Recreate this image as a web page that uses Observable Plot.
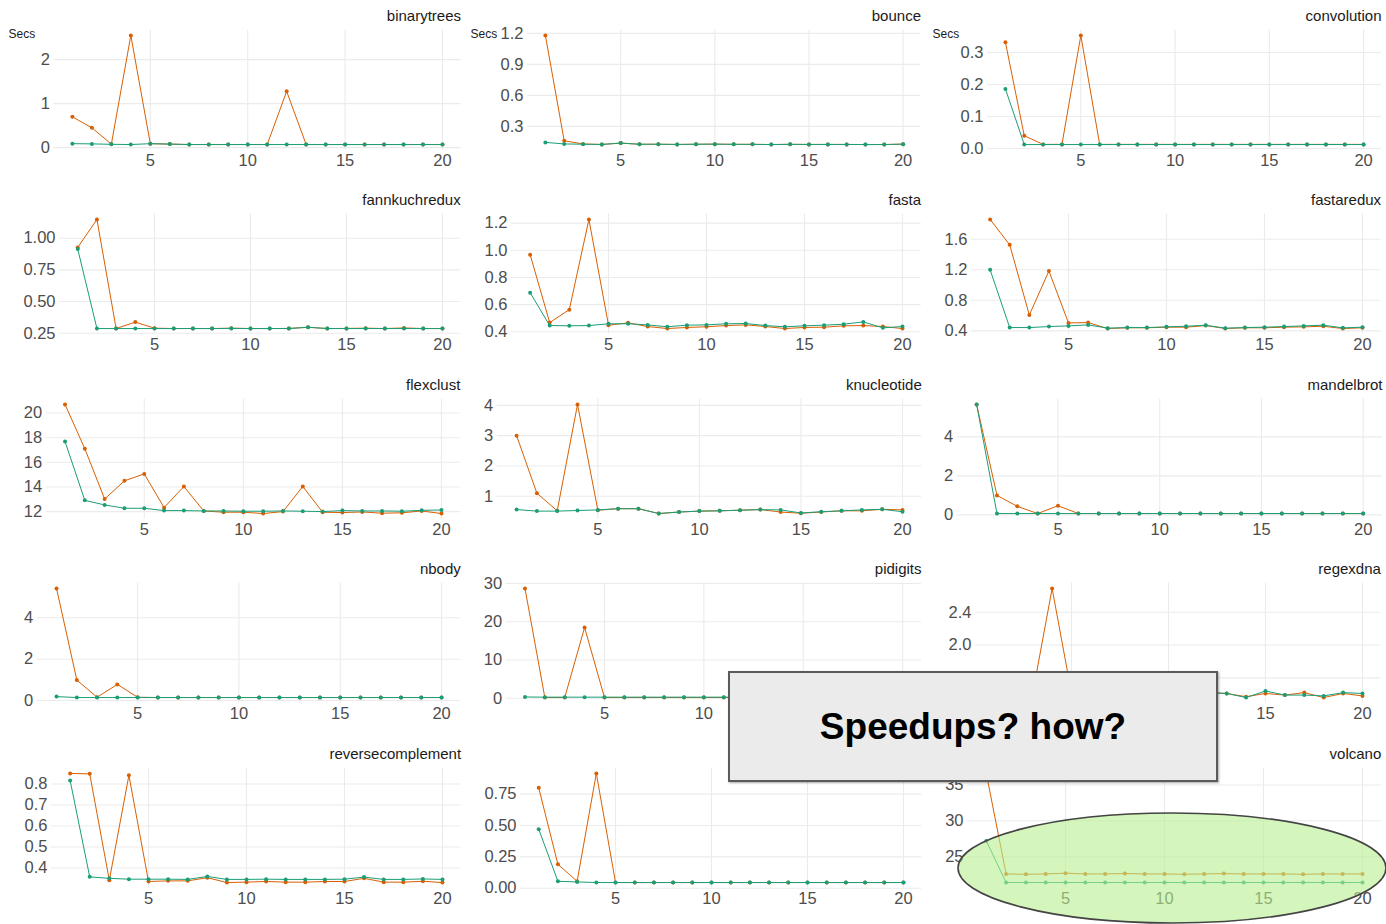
<!DOCTYPE html>
<html><head><meta charset="utf-8">
<script src="https://cdn.jsdelivr.net/npm/d3@7"></script>
<script src="https://cdn.jsdelivr.net/npm/@observablehq/plot@0.6"></script>
<style>
body{margin:0;background:#fff;}
#wrap{position:relative;width:1386px;height:924px;overflow:hidden;background:#fff;font-family:"Liberation Sans",Arial,sans-serif;}
.cell{position:absolute;}
#box{position:absolute;left:728px;top:671px;width:490px;height:111px;box-sizing:border-box;border:2px solid #5a5a5a;background:#ebebeb;display:flex;align-items:center;justify-content:center;font-weight:bold;font-size:37px;color:#000;box-shadow:1px 1px 2px rgba(0,0,0,.35);font-family:"Liberation Sans",Arial,sans-serif;}
#ring{position:absolute;left:0;top:0;pointer-events:none;}
</style></head><body><div id="wrap"></div>
<script>
// ---------- data ----------
const runs = [1,2,3,4,5,6,7,8,9,10,11,12,13,14,15,16,17,18,19,20];
const xTicks = [5,10,15,20];
const benchmarks = ["binarytrees","bounce","convolution","fannkuchredux","fasta","fastaredux","flexclust","knucleotide","mandelbrot","nbody","pidigits","regexdna","reversecomplement","spectralnorm","volcano"];

// orange series (seconds per run)
const binarytreesA = [0.70,0.45,0.08,2.55,0.09,0.08,0.07,0.07,0.07,0.07,0.07,1.28,0.07,0.07,0.07,0.07,0.07,0.07,0.07,0.07];
const bounceA = [1.18,0.16,0.13,0.125,0.138,0.127,0.127,0.125,0.127,0.128,0.126,0.126,0.124,0.126,0.125,0.125,0.125,0.124,0.124,0.128];
const convolutionA = [0.332,0.040,0.013,0.013,0.353,0.013,0.013,0.013,0.013,0.013,0.013,0.013,0.013,0.013,0.013,0.013,0.013,0.013,0.013,0.013];
const fannkuchreduxA = [0.927,1.148,0.287,0.338,0.29,0.287,0.287,0.287,0.29,0.287,0.287,0.288,0.297,0.287,0.288,0.29,0.287,0.292,0.287,0.287];
const fastaA = [0.968,0.468,0.563,1.227,0.449,0.466,0.439,0.424,0.432,0.437,0.446,0.451,0.439,0.424,0.432,0.434,0.444,0.446,0.439,0.424];
const fastareduxA = [1.86,1.527,0.608,1.184,0.504,0.508,0.43,0.44,0.44,0.448,0.448,0.469,0.43,0.44,0.44,0.448,0.452,0.46,0.43,0.44];
const flexclustA = [20.7,17.1,13.02,14.5,15.06,12.32,14.04,12.05,11.95,11.95,11.84,12.0,14.04,11.95,11.92,11.97,11.87,11.9,12.05,11.84];
const knucleotideA = [3.0,1.1,0.52,4.03,0.54,0.59,0.59,0.43,0.48,0.51,0.52,0.54,0.56,0.48,0.44,0.48,0.52,0.52,0.57,0.55];
const mandelbrotA = [5.66,1.0,0.44,0.07,0.47,0.07,0.07,0.07,0.07,0.07,0.07,0.07,0.07,0.07,0.07,0.07,0.07,0.07,0.07,0.07];
const nbodyA = [5.42,0.99,0.16,0.78,0.16,0.145,0.145,0.145,0.145,0.145,0.145,0.145,0.145,0.145,0.145,0.145,0.145,0.145,0.145,0.145];
const pidigitsA = [28.7,0.2,0.2,18.5,0.2,0.2,0.2,0.2,0.2,0.2,0.2,0.2,0.2,0.2,0.2,0.2,0.2,0.2,0.2,0.2];
const regexdnaA = [1.44,1.42,1.41,2.69,1.41,1.42,1.40,1.41,1.42,1.40,1.41,1.42,1.41,1.37,1.41,1.39,1.42,1.36,1.41,1.38];
const reversecomplementA = [0.85,0.848,0.342,0.841,0.336,0.339,0.339,0.354,0.331,0.333,0.336,0.333,0.333,0.336,0.336,0.351,0.333,0.333,0.337,0.331];
const spectralnormA = [0.80,0.19,0.055,0.915,0.045,0.045,0.045,0.045,0.045,0.045,0.045,0.045,0.045,0.045,0.045,0.045,0.045,0.045,0.045,0.045];
const volcanoA = [36.6,22.6,22.55,22.6,22.7,22.6,22.6,22.65,22.6,22.6,22.55,22.6,22.65,22.6,22.6,22.6,22.55,22.6,22.6,22.6];

// green series (seconds per run)
const binarytreesB = [0.09,0.085,0.075,0.07,0.09,0.08,0.07,0.07,0.07,0.07,0.07,0.07,0.07,0.07,0.07,0.07,0.07,0.07,0.07,0.07];
const bounceB = [0.145,0.13,0.127,0.125,0.138,0.127,0.127,0.125,0.127,0.128,0.126,0.126,0.124,0.126,0.125,0.125,0.125,0.124,0.124,0.128];
const convolutionB = [0.186,0.0125,0.0125,0.0125,0.0125,0.0125,0.0125,0.0125,0.0125,0.0125,0.0125,0.0125,0.0125,0.0125,0.0125,0.0125,0.0125,0.0125,0.0125,0.0125];
const fannkuchreduxB = [0.914,0.287,0.287,0.287,0.287,0.287,0.287,0.287,0.288,0.287,0.287,0.287,0.297,0.287,0.287,0.287,0.287,0.287,0.287,0.287];
const fastaB = [0.688,0.446,0.444,0.446,0.459,0.459,0.451,0.437,0.449,0.451,0.459,0.461,0.446,0.437,0.444,0.449,0.456,0.473,0.429,0.439];
const fastareduxB = [1.20,0.443,0.443,0.456,0.465,0.478,0.435,0.443,0.443,0.452,0.46,0.474,0.435,0.443,0.448,0.456,0.465,0.474,0.439,0.448];
const flexclustB = [17.69,12.91,12.54,12.27,12.27,12.08,12.08,12.05,12.05,12.03,12.03,12.05,12.03,12.0,12.08,12.05,12.05,12.03,12.1,12.13];
const knucleotideB = [0.56,0.51,0.51,0.53,0.55,0.59,0.59,0.43,0.48,0.51,0.52,0.54,0.56,0.55,0.45,0.49,0.52,0.55,0.57,0.49];
const mandelbrotB = [5.66,0.07,0.07,0.07,0.07,0.07,0.07,0.07,0.07,0.07,0.07,0.07,0.07,0.07,0.07,0.07,0.07,0.07,0.07,0.07];
const nbodyB = [0.19,0.145,0.145,0.145,0.145,0.145,0.145,0.145,0.145,0.145,0.145,0.145,0.145,0.145,0.145,0.145,0.145,0.145,0.145,0.145];
const pidigitsB = [0.35,0.3,0.3,0.3,0.3,0.3,0.3,0.3,0.3,0.3,0.3,0.3,0.3,0.3,0.3,0.3,0.3,0.3,0.3,0.3];
const regexdnaB = [1.46,1.41,1.40,1.41,1.42,1.41,1.40,1.42,1.41,1.40,1.41,1.42,1.41,1.36,1.44,1.39,1.39,1.38,1.42,1.41];
const reversecomplementB = [0.817,0.358,0.351,0.347,0.347,0.347,0.346,0.36,0.346,0.346,0.347,0.346,0.346,0.346,0.347,0.357,0.346,0.346,0.348,0.346];
const spectralnormB = [0.47,0.055,0.05,0.045,0.045,0.045,0.045,0.045,0.045,0.045,0.045,0.045,0.045,0.045,0.045,0.045,0.045,0.045,0.045,0.045];
const volcanoB = [27.2,21.4,21.4,21.4,21.4,21.4,21.4,21.4,21.4,21.4,21.4,21.4,21.4,21.4,21.4,21.4,21.4,21.4,21.4,21.4];

const seriesA = [binarytreesA,bounceA,convolutionA,fannkuchreduxA,fastaA,fastareduxA,flexclustA,knucleotideA,mandelbrotA,nbodyA,pidigitsA,regexdnaA,reversecomplementA,spectralnormA,volcanoA];
const seriesB = [binarytreesB,bounceB,convolutionB,fannkuchreduxB,fastaB,fastareduxB,flexclustB,knucleotideB,mandelbrotB,nbodyB,pidigitsB,regexdnaB,reversecomplementB,spectralnormB,volcanoB];

// y tick labels per panel
const yTicks = [[0,1,2],[0.3,0.6,0.9,1.2],[0,0.1,0.2,0.3],[0.25,0.5,0.75,1],[0.4,0.6,0.8,1.0,1.2],[0.4,0.8,1.2,1.6],[12,14,16,18,20],[1,2,3,4],[0,2,4],[0,2,4],[0,10,20,30],[1.6,2.0,2.4],[0.4,0.5,0.6,0.7,0.8],[0,0.25,0.5,0.75],[25,30,35]];
const yDigits = [0,1,1,2,1,1,0,0,0,0,0,1,1,2,0];
const yLabel = "Secs";
const annotation = "Speedups? how?";

// ---------- layout (not data) ----------
const marginLefts = [53.4,65,63, 59,49,47, 45.7,34.8,32.8, 36.8,43.6,51, 51,58,43];
const marginRights = [1.5,3.5,5, 1.8,3.4,5.4, 2.2,2.7,4, 1.7,3,5.6, 1.4,2.8,5.2];
const colW = 462, rowH = 184.4;
const orange = "#D95F02", green = "#1B9E77";
const font = "'Liberation Sans', Arial, Helvetica, sans-serif";

const wrap = document.getElementById("wrap");

benchmarks.forEach((name, i) => {
  const row = Math.floor(i / 3), col = i % 3;
  const a = seriesA[i], b = seriesB[i];
  const dataA = runs.map((r, k) => ({run: r, secs: a[k]}));
  const dataB = runs.map((r, k) => ({run: r, secs: b[k]}));
  const all = a.concat(b);
  const lo = d3.min(all), hi = d3.max(all), pad = 0.05 * (hi - lo);
  const fmt = d3.format(`.${yDigits[i]}f`);
  const ml = marginLefts[i];
  const marks = [
    Plot.gridX(xTicks, {stroke: "#ebebeb", strokeOpacity: 1, strokeWidth: 1.1}),
    Plot.gridY(yTicks[i], {stroke: "#ebebeb", strokeOpacity: 1, strokeWidth: 1.1}),
    Plot.axisX(xTicks, {tickSize: 0, tickPadding: 4.5, fontSize: 16.5, color: "#4d4d4d", label: null}),
    Plot.axisY(yTicks[i], {tickSize: 0, tickPadding: 4, fontSize: 16.5, color: "#4d4d4d", tickFormat: fmt, label: null}),
    Plot.line(dataA, {x: "run", y: "secs", stroke: orange, strokeWidth: 1}),
    Plot.dot(dataA, {x: "run", y: "secs", r: 2, fill: orange, stroke: "none"}),
    Plot.line(dataB, {x: "run", y: "secs", stroke: green, strokeWidth: 1}),
    Plot.dot(dataB, {x: "run", y: "secs", r: 2, fill: green, stroke: "none"}),
    Plot.text([name], {text: d => d, frameAnchor: "top-right", dy: -19.5, textAnchor: "end", fontSize: 15, fill: "#1a1a1a"})
  ];
  if (row === 0) marks.push(Plot.text([yLabel], {text: d => d, frameAnchor: "top-left", dx: 8 - ml, dy: -1, textAnchor: "start", fontSize: 12, fill: "#1a1a1a"}));
  const chart = Plot.plot({
    width: colW, height: 184,
    marginTop: 29.5, marginBottom: 34.5, marginLeft: ml, marginRight: marginRights[i],
    style: {fontFamily: font, background: "transparent", overflow: "visible"},
    x: {domain: [0.05, 20.95]},
    y: {domain: [lo - pad, hi + pad]},
    marks
  });
  const cell = document.createElement("div");
  cell.className = "cell";
  cell.style.left = (col * colW) + "px";
  cell.style.top = (row * rowH) + "px";
  cell.appendChild(chart);
  wrap.appendChild(cell);
});

// annotation box
const box = document.createElement("div");
box.id = "box";
box.textContent = annotation;
wrap.appendChild(box);

// highlight ellipse
const ns = "http://www.w3.org/2000/svg";
const ring = document.createElementNS(ns, "svg");
ring.setAttribute("id", "ring");
ring.setAttribute("width", 1386);
ring.setAttribute("height", 924);
const el = document.createElementNS(ns, "ellipse");
el.setAttribute("cx", 1172);
el.setAttribute("cy", 868);
el.setAttribute("rx", 214);
el.setAttribute("ry", 55);
el.setAttribute("fill", "#b8f090");
el.setAttribute("fill-opacity", 0.6);
el.setAttribute("stroke", "#444");
el.setAttribute("stroke-width", 1.6);
ring.appendChild(el);
wrap.appendChild(ring);
</script>
</body></html>
